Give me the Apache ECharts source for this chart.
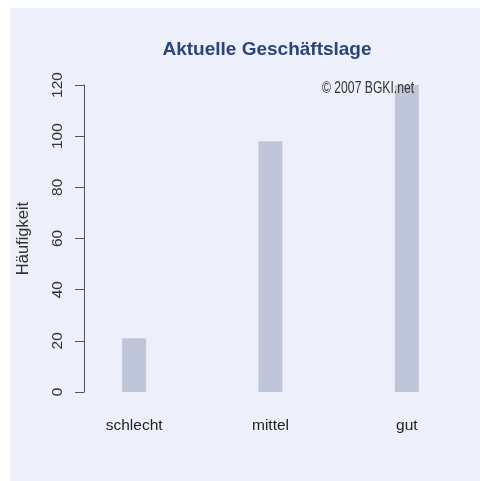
<!DOCTYPE html>
<html>
<head>
<meta charset="utf-8">
<script src="https://cdn.jsdelivr.net/npm/echarts@6/dist/echarts.min.js"></script>
<style>html,body{margin:0;padding:0;background:#fff;}#c{width:480px;height:481px;}</style>
</head>
<body>
<div id="c"></div>
<script>
var categories = ['schlecht', 'mittel', 'gut'];
var values = [21, 98, 120];
var yTicks = [0, 20, 40, 60, 80, 100, 120];

var FONT = '"Liberation Sans", Arial, sans-serif';
var chart = echarts.init(document.getElementById('c'));
chart.setOption({
  animation: false,
  backgroundColor: '#ffffff',
  graphic: [
    { type: 'rect', z: -10, shape: { x: 10, y: 8, width: 470, height: 473 }, style: { fill: '#edf0fb' } },
    { type: 'text', x: 322, y: 89, scaleX: 0.76, z: 10,
      style: { x: 0, y: 0, text: '\u00a9 2007 BGKI.net', fill: '#333', align: 'left', verticalAlign: 'middle',
               font: '16px "Liberation Sans", Arial, sans-serif' } }
  ],
  title: {
    text: 'Aktuelle Gesch\u00e4ftslage',
    left: 262, top: 35, textAlign: 'center',
    textStyle: { color: '#2b4479', fontSize: 19, fontWeight: 'bold', fontFamily: FONT }
  },
  grid: { left: 66, right: 5, top: 85, bottom: 89 },
  xAxis: {
    type: 'category', data: categories,
    axisLine: { show: false }, axisTick: { show: false },
    axisLabel: { margin: 26, color: '#222', fontSize: 15.5, fontFamily: FONT }
  },
  yAxis: {
    type: 'value', min: 0, max: 120, interval: 20, offset: -18,
    name: 'H\u00e4ufigkeit', nameLocation: 'middle', nameGap: 52, nameRotate: 90,
    nameTextStyle: { color: '#333', fontSize: 16.5, fontFamily: FONT },
    axisLine: { show: true, lineStyle: { color: '#555', width: 1 } },
    axisTick: { show: true, length: 9, lineStyle: { color: '#555' } },
    splitLine: { show: false },
    axisLabel: {
      rotate: 90, margin: 18, color: '#333', fontSize: 15.5, fontFamily: FONT,
      formatter: function (v) { return yTicks.indexOf(v) >= 0 ? String(v) : ''; }
    }
  },
  series: [{
    type: 'bar', data: values, barWidth: 24,
    itemStyle: { color: '#c0c6da' }
  }]
});
</script>
</body>
</html>
